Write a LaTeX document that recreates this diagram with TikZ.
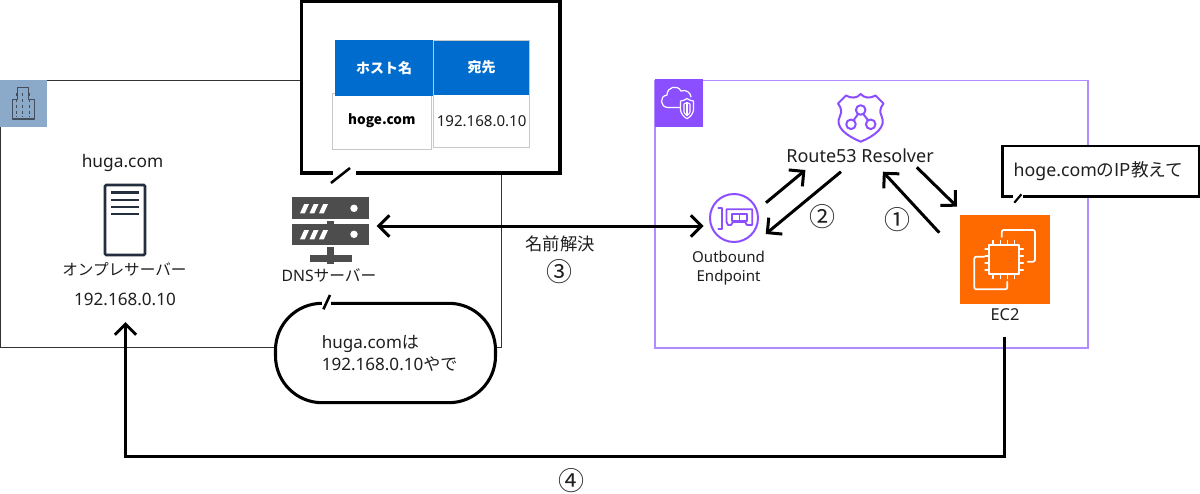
\documentclass[tikz,border=0pt]{standalone}
\usepackage{fontspec}
\setmainfont{Noto Sans}
\newfontfamily\jp{Noto Sans CJK JP}
\usetikzlibrary{arrows.meta}
\definecolor{ink}{HTML}{1F1F1F}
\definecolor{awsp}{HTML}{8C4FFF}
\definecolor{awsl}{HTML}{B08CFF}
\definecolor{navy}{HTML}{232F3E}
\definecolor{bld}{HTML}{8BA9C9}
\definecolor{blue}{HTML}{006CCE}
\definecolor{cellg}{HTML}{C8C8C8}
\definecolor{orng}{HTML}{FF6A00}
\definecolor{dns}{HTML}{4D4D4D}
\tikzset{
  sz/.style 2 args={minimum width=#1*0.75pt,minimum height=#2*0.75pt,inner sep=0pt,outer sep=0pt},
  lab/.style={inner sep=0pt,text=ink,font=\fontsize{12.8pt}{15pt}\selectfont,align=center},
  slab/.style={inner sep=0pt,text=ink,font=\fontsize{11.3pt}{14.2pt}\selectfont,align=center},
  numlab/.style={inner sep=0pt,text=ink,font=\jp\fontsize{19.5pt}{20pt}\selectfont},
  flow/.style={draw=black,line width=2.25pt,-{Straight Barb[length=8pt,width=16pt]}},
  twoway/.style={draw=black,line width=2.25pt,{Straight Barb[length=8pt,width=16pt]}-{Straight Barb[length=8pt,width=16pt]}},
  thin box/.style={draw=black!80,line width=0.75pt},
  callout/.style={draw=black,line width=2.2pt,line join=miter},
  tail/.style={draw=black,line width=1.9pt},
  cell/.style={draw=cellg,line width=0.75pt,fill=white},
  head/.style={fill=blue,text=white,font=\jp\bfseries\fontsize{10.5pt}{12pt}\selectfont},
  purp/.style={draw=awsp,line width=1.5pt,line join=round,line cap=round},
  wht/.style={draw=white,line width=1.3pt,line cap=round,line join=round},
}
\begin{document}
\begin{tikzpicture}[x=0.75pt,y=-0.75pt]
\useasboundingbox (0,0) rectangle (1200,493);
\fill[white] (0,0) rectangle (1200,493);

% on-prem group
\draw[thin box] (301,80.5) -- (0.5,80.5) -- (0.5,347.7) -- (495,347.7) -- (501.3,347.7) -- (501.3,173);
\node[sz={47}{47},fill=bld,anchor=north west] (bldicon) at (0,80) {};
\draw[navy!85!white,line width=0.9pt,line join=round] (12.7,119) -- (12.7,99.7) -- (17.3,99.7) -- (17.3,87.5) -- (28.3,87.5) -- (28.3,99.7) -- (34.3,99.7) -- (34.3,119) -- cycle;
\foreach \xx in {16.5,22.8,29.5}
  \draw[navy!85!white,line width=0.8pt,dash pattern=on 2.2pt off 2.2pt] (\xx,93) -- (\xx,117);

% aws group
\draw[draw=awsl,line width=0.95pt] (655,80.7) rectangle (1088,348);
\node[sz={47.5}{47.7},fill=awsp,anchor=north west] (awsicon) at (655,79) {};
\draw[wht,line width=0.9pt] (680,107.5) -- (668,107.5) .. controls (660,107.5) and (659,96) .. (667,95) .. controls (667,87) and (677,84) .. (681,91) .. controls (686,89) and (691,93) .. (691,97);
\draw[wht,line width=0.9pt,fill=awsp] (687,98.5) .. controls (684,100.5) and (682,101) .. (680.5,101) -- (680.5,110) .. controls (681,114) and (684,117) .. (687,118.7) .. controls (690,117) and (693,114) .. (693.5,110) -- (693.5,101) .. controls (692,101) and (690,100.5) .. (687,98.5) -- cycle;
\draw[wht,line width=0.8pt] (684,104) -- (684,112) .. controls (684.5,114) and (686,115) .. (687,115.5) .. controls (688,115) and (689.5,114) .. (690,112) -- (690,104) .. controls (689,103.5) and (688,103) .. (687,102.5) .. controls (686,103) and (685,103.5) .. (684,104) -- cycle;
\draw[wht,line width=0.8pt] (687,102.5) -- (687,115.5);

% table box
\node[sz={258.5}{172},fill=white,anchor=north west] (tablebox) at (301.5,1) {};
\draw[callout,line width=2.3pt] (356,173) -- (560,173) -- (560,1.5) -- (301.5,1.5) -- (301.5,173) -- (333,173);
\coordinate (tailAa) at (331,183);
\coordinate (tailAb) at (350,168);
\draw[tail] (tailAa) -- (tailAb);
\node[sz={99.7}{56},cell,anchor=north west,font=\jp\bfseries\fontsize{10.2pt}{12pt}\selectfont,text=black] (hoge) at (332,93) {hoge.com};
\node[sz={96}{52.3},cell,anchor=north west,text=ink,font=\fontsize{11.3pt}{13pt}\selectfont] (ipcell) at (433.6,94.7) {192.168.0.10};
\node[sz={99.1}{56},head,anchor=north west] (hhost) at (334.5,40) {ホスト名};
\node[sz={96}{54.7},head,anchor=north west] (hdest) at (433.6,40) {宛先};
\draw[cellg,line width=0.75pt] (hhost.north east) -- (hhost.south east);
\draw[cellg,line width=0.5pt] (hdest.north west) -- (hdest.north east) -- (hdest.south east);

% on-prem server
\node[lab,font=\fontsize{13pt}{15pt}\selectfont] (huga) at (122.5,163) {huga.com};
\node[sz={40}{70},draw=navy,line width=2pt,rounded corners=1pt,anchor=north west,fill=white] (srv) at (105,185) {};
\foreach \yy in {192.7,200,207,214}
  \draw[navy,line width=2pt] (111,\yy) -- (138.5,\yy);
\node[inner sep=0pt,text=ink,font=\jp\fontsize{11.7pt}{13pt}\selectfont] (onprem) at (124.4,269.3) {オンプレサーバー};
\node[lab] (srvip) at (125,299) {192.168.0.10};
\coordinate (srvin) at (125.5,322);

% DNS server icon
\node[sz={76.7}{22},fill=dns,anchor=north west] (dnsa) at (292.3,197.3) {};
\node[sz={76.7}{21.3},fill=dns,anchor=north west] (dnsb) at (292.3,224) {};
\fill[dns] (326.7,220.7) rectangle (334.3,224);
\fill[dns] (327,247.3) rectangle (334.3,255);
\fill[dns] (310,255) rectangle (351.7,261.7);
\fill[dns] (327,261.7) rectangle (334.3,264);
\foreach \dy in {0,26}{
  \foreach \dx in {0,9.5,19}{
    \fill[white] (300+\dx,213.3+\dy) -- (304.2+\dx,204+\dy) -- (309+\dx,204+\dy) -- (304.8+\dx,213.3+\dy) -- cycle;
  }
  \fill[white] (354,208.3+\dy) circle[radius=2.8pt];
}
\node[inner sep=0pt,text=ink,font=\fontsize{11.8pt}{13pt}\selectfont] (dnslab) at (329,275.7) {DNS{\jp サーバー}};
\coordinate (dnsport) at (376.6,226);

% bubble
\node[sz={220}{99.4},fill=white,draw=black,line width=2.3pt,rounded corners=35pt] (bubble) at (385.5,353) {};
\draw[white,line width=4.5pt] (322,303.3) -- (330.5,303.3);
\coordinate (tailBa) at (323.4,309.3);
\coordinate (tailBb) at (330,295);
\draw[tail] (tailBa) -- (tailBb);
\node[lab,align=left,anchor=west,font=\fontsize{12.8pt}{16pt}\selectfont] (bubbletext) at (321.5,353.5) {huga.com{\jp は}\\192.168.0.10{\jp やで}};

% middle label
\node[inner sep=0pt,text=ink,font=\jp\fontsize{13pt}{13pt}\selectfont] (resolve) at (560,244) {名前解決};
\node[numlab] (n3) at (559.5,271.7) {③};
\node[numlab] (n4) at (571,481) {④};

% Route 53 icon
\coordinate (r53) at (860.7,118);
\draw[purp] (860.7,94) .. controls (857,98.5) and (851,98.5) .. (846,95.5) -- (838,103.5) .. controls (841.5,108) and (842,112) .. (840,116) .. controls (834,127) and (847,136) .. (860.7,141.7) .. controls (874.5,136) and (887,127) .. (881.5,116) .. controls (879.5,112) and (880,108) .. (883.5,103.5) -- (875.5,95.5) .. controls (870.5,98.5) and (864.5,98.5) .. (860.7,94) -- cycle;
\draw[purp] (860.7,110) circle[radius=3.6pt];
\draw[purp] (851,124.3) circle[radius=3.6pt];
\draw[purp] (870.7,124.3) circle[radius=3.6pt];
\draw[purp] (858,114.2) -- (853.6,120.2);
\draw[purp] (863.4,114.2) -- (868,120.2);
\node[inner sep=0pt,text=ink,font=\fontsize{13.5pt}{15pt}\selectfont] (r53lab) at (860,155.3) {Route53 Resolver};

% Outbound icon
\node[circle,draw=awsp,line width=1.5pt,minimum size=36pt,inner sep=0pt] (ob) at (734,218) {};
\draw[purp,line width=1.4pt] (718.3,208) -- (722,208) -- (722,229) -- (718.3,229);
\draw[purp,line width=1.4pt] (726.5,209.3) -- (752.3,209.3) -- (752.3,225) -- (747,225) -- (745,222) -- (733,222) -- (731,225) -- (728,225) -- (726.5,222) -- cycle;
\draw[purp,line width=1.4pt] (732,214) rectangle (747,220.7);
\draw[purp,line width=1.4pt] (739.5,214) -- (739.5,220.7);
\node[slab] (oblab) at (728.6,268.2) {Outbound\\Endpoint};

% EC2 icon
\node[sz={90}{89.3},fill=orng,anchor=north west] (ec2) at (960,215) {};
\draw[wht] (989.3,245) rectangle (1019,274);
\foreach \t in {0,1,2,3}{
  \draw[wht,line width=1pt] (993+\t*7.2,245) -- (993+\t*7.2,240.5);
  \draw[wht,line width=1pt] (993+\t*7.2,274) -- (993+\t*7.2,278.5);
  \draw[wht,line width=1pt] (989.3,249+\t*7) -- (985,249+\t*7);
  \draw[wht,line width=1pt] (1019,249+\t*7) -- (1023.3,249+\t*7);
}
\draw[wht,rounded corners=1.5pt] (1001.7,237) -- (1001.7,230) -- (1035,230) -- (1035,261.7) -- (1027.7,261.7);
\draw[wht,rounded corners=1.5pt] (984.3,256.7) -- (974.3,256.7) -- (974.3,289.3) -- (1007.3,289.3) -- (1007.3,281.7);
\node[inner sep=0pt,text=ink,font=\fontsize{12.3pt}{14pt}\selectfont] (ec2lab) at (1005,314.3) {EC2};

% callout
\node[sz={196.5}{50.7},fill=white,anchor=north west] (say) at (1002.5,146) {};
\draw[callout,line width=2pt] (1023,196.7) -- (1199,196.7) -- (1199,146) -- (1002.5,146) -- (1002.5,196.7) -- (1013,196.7);
\coordinate (tailCa) at (1014.3,202.7);
\coordinate (tailCb) at (1021.4,194.3);
\draw[tail,line width=1.6pt] (tailCa) -- (tailCb);
\node[inner sep=0pt,text=ink,font=\fontsize{13.3pt}{15pt}\selectfont] (saytext) at (1098.5,170.7) {hoge.com{\jp のIP教えて}};

% numbers
\node[numlab] (n2) at (822.9,216.7) {②};
\node[numlab] (n1) at (897,220) {①};

% connectors
\coordinate (ob1) at (766,202.7);
\coordinate (r1) at (805.4,170);
\coordinate (r2) at (841,171.7);
\coordinate (ob2) at (765.7,234);
\coordinate (e1) at (939.3,232.7);
\coordinate (r3) at (882.9,171.7);
\coordinate (r4) at (916.8,167.3);
\coordinate (e2) at (957,206.7);
\coordinate (obport) at (703.6,226);
\coordinate (e3) at (1004,336.7);
\draw[flow] (ob1) -- (r1);
\draw[flow] (r2) -- (ob2);
\draw[flow] (e1) -- (r3);
\draw[flow] (r4) -- (e2);
\draw[twoway] (dnsport) -- (obport);
\draw[flow,line join=miter] (e3) -- (1004,456.7) -- (125.5,456.7) -- (srvin);
\end{tikzpicture}
\end{document}
